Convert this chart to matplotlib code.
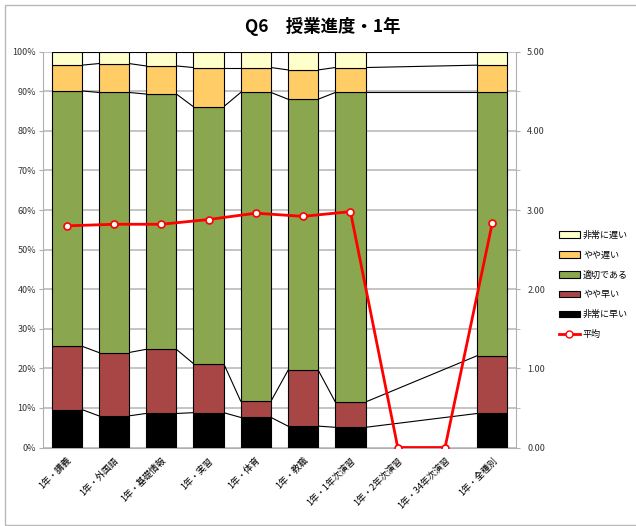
import numpy as np
import matplotlib
matplotlib.use("Agg")
import matplotlib.pyplot as plt
from matplotlib.patches import Patch, Rectangle
from matplotlib.lines import Line2D

plt.rcParams['font.family'] = ['Noto Sans CJK JP', 'DejaVu Sans']

categories = ["1年・講義", "1年・外国語", "1年・基礎情報", "1年・実習", "1年・体育",
              "1年・教職", "1年・1年次演習", "1年・2年次演習", "1年・34年次演習", "1年・全種別"]
# percent shares per answer (nan = no data)
hijo_hayai = [9.6, 8.0, 8.6, 8.8, 7.6, 5.4, 5.1, np.nan, np.nan, 8.6]
yaya_hayai = [16.0, 16.0, 16.2, 12.4, 4.1, 14.1, 6.4, np.nan, np.nan, 14.6]
tekisetsu = [64.5, 65.7, 64.5, 64.9, 78.0, 68.5, 78.2, np.nan, np.nan, 66.5]
yaya_osoi = [6.5, 7.3, 7.1, 9.9, 6.3, 7.4, 6.3, np.nan, np.nan, 6.9]
hijo_osoi = [3.4, 3.0, 3.6, 4.0, 4.0, 4.6, 4.0, np.nan, np.nan, 3.4]
heikin = [2.80, 2.82, 2.82, 2.88, 2.96, 2.92, 2.98, 0.0, 0.0, 2.84]

series = [("非常に早い", hijo_hayai, "#000000"),
          ("やや早い", yaya_hayai, "#A84646"),
          ("適切である", tekisetsu, "#8AA64E"),
          ("やや遅い", yaya_osoi, "#FFCC66"),
          ("非常に遅い", hijo_osoi, "#FFFFCC")]

fig = plt.figure(figsize=(6.36, 5.26), dpi=100)
fig.patches.append(Rectangle((5/636, 1-525/526), 1.1, 520/526, transform=fig.transFigure,
                             fill=False, edgecolor="#b8b8b8", lw=1))
ax = fig.add_axes([43/636, 1-447.5/526, 473/636, 395.8/526])

x = np.arange(len(categories))
w = 0.64
valid = [i for i in range(len(categories)) if not np.isnan(hijo_hayai[i])]

bottom = np.zeros(len(categories))
for name, vals, col in series:
    v = np.array(vals, dtype=float)
    ax.bar(x[valid], v[valid], w, bottom=bottom[valid], color=col,
           edgecolor="black", lw=0.8, zorder=3)
    top = bottom + v
    # series lines between bars
    for a, b in zip(valid[:-1], valid[1:]):
        ax.plot([x[a] + w/2, x[b] - w/2], [top[a], top[b]], color="black", lw=0.8, zorder=2)
    bottom = top

ax.set_xlim(-0.5, len(categories) - 0.5)
ax.set_ylim(0, 100)
ax.set_yticks(range(0, 101, 10))
ax.set_yticklabels([f"{t}%" for t in range(0, 101, 10)], fontsize=6.5, color="#333333")
ax.yaxis.grid(True, color="#c4c4c4", lw=1.4, zorder=0)
ax.set_axisbelow(True)
ax.set_xticks(x)
ax.set_xticklabels(categories, rotation=45, ha="right", rotation_mode="anchor", fontsize=6.5)
ax.tick_params(axis="x", length=0, pad=6)
ax.tick_params(axis="y", length=3, color="#b0b0b0", pad=2)
for s in ["top", "right"]:
    ax.spines[s].set_visible(False)
for s in ["left", "bottom"]:
    ax.spines[s].set_color("#b0b0b0")

ax2 = ax.twinx()
ax2.set_ylim(0, 5)
ax2.set_yticks(np.arange(0, 5.01, 1.0))
ax2.set_yticks(np.arange(0.5, 5, 1.0), minor=True)
ax2.set_yticklabels([f"{t:.2f}" for t in np.arange(0, 5.01, 1.0)], fontsize=6.5, color="#333333")
ax2.tick_params(axis="y", which="both", length=3, color="#b0b0b0", pad=5)
for s in ["top", "left", "bottom"]:
    ax2.spines[s].set_visible(False)
ax2.spines["right"].set_color("#b0b0b0")
ax2.plot(x, heikin, color="red", lw=2, marker="o", markersize=5,
         markerfacecolor="white", markeredgecolor="red", markeredgewidth=1.2, zorder=5)

fig.text(323/636, 1-27/526, "Q6　授業進度・1年", ha="center", va="center",
         fontsize=12.5, fontweight="bold")

handles = [Patch(facecolor=c, edgecolor="black", lw=0.8, label=n) for n, _, c in series[::-1]]
handles.append(Line2D([], [], color="red", lw=2, marker="o", markersize=5,
                      markerfacecolor="white", markeredgecolor="red", label="平均"))
fig.legend(handles=handles, loc="upper left", bbox_to_anchor=(555/636, 1-227/526),
           frameon=False, fontsize=6.5, handlelength=2.4, handleheight=0.7,
           labelspacing=1.2, handletextpad=0.3, borderaxespad=0)

fig.savefig("out.png", dpi=100)
